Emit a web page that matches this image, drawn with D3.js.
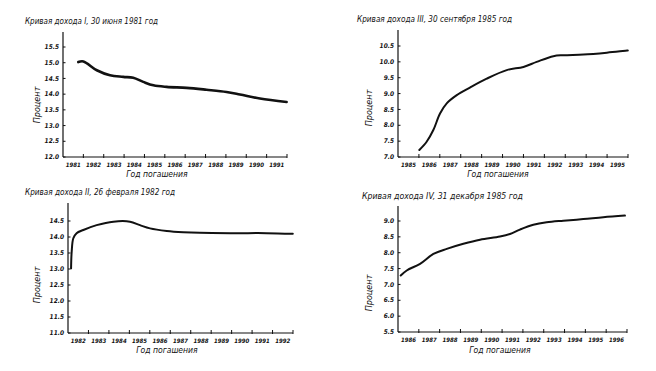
<!DOCTYPE html>
<html>
<head>
<meta charset="utf-8">
<script src="https://cdn.jsdelivr.net/npm/d3@7"></script>
<style>
  body { margin: 0; background: #fff; }
  svg text { font-family: "Liberation Sans Narrow", "DejaVu Sans Condensed", "DejaVu Sans", sans-serif; font-style: italic; fill: #111; }
</style>
</head>
<body>
<div id="visuals_container"></div>
<script>
// curve I, 30 june 1981
const years_1 = [1981.75, 1982.0, 1982.66, 1983.31, 1983.96, 1984.45, 1984.94, 1985.44, 1986.09, 1987.07, 1988.05, 1989.03, 1989.69, 1990.67, 1991.98];
const values_1 = [15.02, 15.04, 14.76, 14.6, 14.55, 14.52, 14.39, 14.28, 14.23, 14.2, 14.14, 14.07, 13.99, 13.86, 13.75];

// curve III, 30 september 1985
const years_2 = [1986.02, 1986.37, 1986.69, 1987.01, 1987.33, 1987.81, 1988.44, 1989.24, 1990.2, 1991.0, 1991.63, 1992.43, 1992.91, 1993.87, 1994.99, 1995.99];
const values_2 = [7.22, 7.48, 7.85, 8.37, 8.69, 8.95, 9.19, 9.47, 9.74, 9.84, 10.0, 10.18, 10.21, 10.23, 10.29, 10.36];

// curve II, 26 february 1982
const years_3 = [1982.15, 1982.18, 1982.26, 1982.42, 1982.75, 1983.4, 1984.22, 1985.03, 1985.52, 1986.01, 1986.83, 1987.64, 1988.45, 1990.08, 1991.71, 1992.99];
const values_3 = [13.02, 13.54, 13.96, 14.12, 14.22, 14.37, 14.48, 14.48, 14.37, 14.27, 14.19, 14.15, 14.13, 14.12, 14.12, 14.1];

// curve IV, 31 december 1985
const years_4 = [1986.13, 1986.42, 1987.06, 1987.7, 1988.34, 1989.14, 1989.94, 1990.9, 1991.38, 1991.86, 1992.5, 1993.14, 1993.94, 1994.9, 1995.86, 1996.9];
const values_4 = [7.28, 7.44, 7.65, 7.96, 8.12, 8.28, 8.41, 8.51, 8.59, 8.73, 8.88, 8.96, 9.01, 9.06, 9.12, 9.17];

const titles = [
  "Кривая дохода I, 30 июня 1981 год",
  "Кривая дохода III, 30 сентября 1985 год",
  "Кривая дохода II, 26 февраля 1982 год",
  "Кривая дохода IV, 31 декабря 1985 год"
];
const year_ranges = [[1981, 1992], [1985, 1996], [1982, 1993], [1986, 1997]];
const pct_ranges = [[12.0, 15.5], [7.0, 10.5], [11.0, 14.5], [5.5, 9.0]];
const y_title = "Процент";
const x_title = "Год погашения";

const width = 656, height = 371;

const svg = d3.select("#visuals_container")
              .append("svg")
              .attr("width", width)
              .attr("height", height);

svg.append("rect")
   .attr("width", width)
   .attr("height", height)
   .attr("fill", "#fff");

// panel layout: plot box and where the titles sit
const panels = [
  { x0: 63, x1: 287, y0: 157, y1: 47, top: 32, tx: 25, ty: 24, tw: 133, ylx: 40, yly: 105, xlx: 157, xly: 177 },
  { x0: 398, x1: 628, y0: 157, y1: 46, top: 30, tx: 357, ty: 22, tw: 155, ylx: 372, yly: 108, xlx: 498, xly: 177 },
  { x0: 68, x1: 293, y0: 333, y1: 221, top: 203, tx: 25, ty: 195, tw: 150, ylx: 40, yly: 285, xlx: 167, xly: 353 },
  { x0: 398, x1: 627, y0: 332, y1: 221, top: 206, tx: 362, ty: 199, tw: 161, ylx: 372, yly: 293, xlx: 500, xly: 353 }
];

const series = [[years_1, values_1], [years_2, values_2], [years_3, values_3], [years_4, values_4]];

const draw_panel = (i) => {
  const p = panels[i];
  const g = svg.append("g").attr("class", `panel ${i}`);

  const x = d3.scaleLinear().domain(year_ranges[i]).range([p.x0, p.x1]);
  const y = d3.scaleLinear().domain(pct_ranges[i]).range([p.y0, p.y1]);

  // axes lines
  g.append("line")
   .attr("x1", p.x0).attr("y1", p.y0)
   .attr("x2", p.x0).attr("y2", p.top)
   .attr("stroke", "#111").attr("stroke-width", 1.2);
  g.append("line")
   .attr("x1", p.x0).attr("y1", p.y0)
   .attr("x2", p.x1).attr("y2", p.y0)
   .attr("stroke", "#111").attr("stroke-width", 1.2);

  // y ticks
  const yt = d3.range(pct_ranges[i][0], pct_ranges[i][1] + 0.01, 0.5);
  g.selectAll(".ytick")
   .data(yt)
   .join("line")
   .attr("x1", p.x0).attr("x2", p.x0 + 2.5)
   .attr("y1", d => y(d)).attr("y2", d => y(d))
   .attr("stroke", "#111").attr("stroke-width", 1);
  g.selectAll(".ylab")
   .data(yt)
   .join("text")
   .attr("x", p.x0 - 4)
   .attr("y", d => y(d) + 2.2)
   .attr("text-anchor", "end")
   .attr("font-size", "6.5px")
   .attr("font-weight", "bold")
   .text(d => d3.format(".1f")(d));

  // x ticks at year boundaries, labels in the middle of each year
  const xt = d3.range(year_ranges[i][0] + 1, year_ranges[i][1] + 1);
  g.selectAll(".xtick")
   .data(xt)
   .join("line")
   .attr("x1", d => x(d)).attr("x2", d => x(d))
   .attr("y1", p.y0 + 1).attr("y2", p.y0 - 3)
   .attr("stroke", "#111").attr("stroke-width", 1);
  const xl = d3.range(year_ranges[i][0], year_ranges[i][1]);
  g.selectAll(".xlab")
   .data(xl)
   .join("text")
   .attr("x", d => x(d + 0.5))
   .attr("y", p.y0 + 10)
   .attr("text-anchor", "middle")
   .attr("font-size", "6px")
   .attr("font-weight", "bold")
   .text(d => d);

  // the curve
  const line = d3.line()
                 .x(d => x(d[0]))
                 .y(d => y(d[1]))
                 .curve(d3.curveCatmullRom.alpha(0.5));
  const pts = d3.zip(series[i][0], series[i][1]);
  g.append("path")
   .attr("d", line(pts))
   .attr("fill", "none")
   .attr("stroke", "#111")
   .attr("stroke-width", i == 0 ? 2.6 : 2)
   .attr("stroke-linecap", "round");

  // texts
  g.append("text")
   .attr("x", p.tx).attr("y", p.ty)
   .attr("font-size", "9px")
   .attr("textLength", p.tw)
   .attr("lengthAdjust", "spacingAndGlyphs")
   .text(titles[i]);
  g.append("text")
   .attr("transform", `translate(${p.ylx},${p.yly}) rotate(-90)`)
   .attr("text-anchor", "middle")
   .attr("font-size", "9px")
   .text(y_title);
  g.append("text")
   .attr("x", p.xlx).attr("y", p.xly)
   .attr("text-anchor", "middle")
   .attr("font-size", "8.5px")
   .text(x_title);
}

for(let i=0;i<panels.length;i++) {
  draw_panel(i);
}
</script>
</body>
</html>
